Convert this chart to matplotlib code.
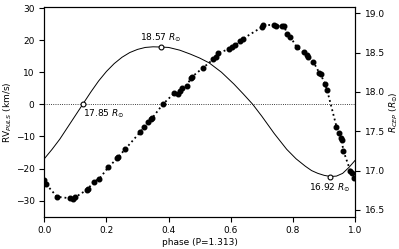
import numpy as np
import matplotlib
matplotlib.use('Agg')
from matplotlib import pyplot as plt

# pulsation velocity measurements (phase, km/s)
rv_phase = [0.0, 0.005, 0.041, 0.084, 0.092, 0.099, 0.136, 0.141, 0.159, 0.177,
            0.206, 0.235, 0.238, 0.260, 0.308, 0.321, 0.334, 0.342, 0.347, 0.381,
            0.418, 0.431, 0.436, 0.442, 0.458, 0.471, 0.474, 0.512, 0.544, 0.552,
            0.560, 0.595, 0.603, 0.614, 0.630, 0.638, 0.700, 0.705, 0.739, 0.746,
            0.764, 0.771, 0.781, 0.792, 0.812, 0.834, 0.844, 0.849, 0.866, 0.885,
            0.889, 0.903, 0.910, 0.940, 0.949, 0.954, 0.957, 0.962, 0.985, 0.989,
            0.998]
rv = [-23.6, -24.8, -28.8, -29.3, -29.4, -29.0, -26.7, -26.3, -24.1, -23.2,
      -19.6, -16.8, -16.4, -14.0, -8.7, -6.9, -5.4, -4.6, -4.3, 0.0,
      3.5, 3.2, 4.3, 5.1, 5.6, 8.2, 8.5, 11.5, 14.1, 14.7,
      16.0, 17.3, 17.8, 18.4, 19.8, 20.4, 24.1, 24.7, 24.8, 24.5,
      24.3, 24.5, 22.1, 21.0, 17.9, 16.2, 15.5, 14.8, 13.2, 9.8,
      9.4, 6.4, 4.4, -6.9, -9.0, -10.6, -11.1, -14.4, -20.8, -21.3,
      -23.1]

# radius curve (phase, R_sun)
r_phase = [0.0, 0.025, 0.05, 0.075, 0.1, 0.125, 0.15, 0.175, 0.2, 0.225,
           0.25, 0.275, 0.3, 0.325, 0.35, 0.375, 0.4, 0.436, 0.47, 0.5,
           0.53, 0.57, 0.61, 0.64, 0.67, 0.7, 0.74, 0.78, 0.81, 0.84,
           0.86, 0.88, 0.9, 0.92, 0.94, 0.96, 0.98, 1.0]
radius = [17.15, 17.27, 17.40, 17.55, 17.70, 17.85, 18.00, 18.14, 18.26, 18.36,
          18.44, 18.50, 18.54, 18.565, 18.573, 18.57, 18.565, 18.53, 18.48, 18.43,
          18.37, 18.25, 18.10, 17.975, 17.845, 17.69, 17.47, 17.27, 17.15, 17.055,
          17.00, 16.965, 16.94, 16.925, 16.93, 16.965, 17.04, 17.13]

r_mean = 17.85
marks = [(0.125, 17.85), (0.375, 18.57), (0.919, 16.92)]

plt.rcParams['font.size'] = 6.5
fig = plt.figure(figsize=(3.99, 2.49), dpi=100)
ax = fig.add_axes([0.111, 0.13, 0.779, 0.841])
ax2 = ax.twinx()

ax.plot(rv_phase, rv, 'k:', lw=1.3, marker='o', ms=3.3)
ax.set_xlim(0, 1)
ax.set_ylim(-35, 30.3)
ax.set_yticks([-30, -20, -10, 0, 10, 20, 30])
ax.set_xlabel('phase (P=1.313)', labelpad=2)
ax.set_ylabel('RV$_{PULS}$ (km/s)', labelpad=1)

ax2.plot(r_phase, radius, 'k-', lw=0.7)
ax2.axhline(r_mean, color='k', ls=':', lw=0.6)
ax2.set_ylim(16.415, 19.076)
ax2.set_yticks([16.5, 17.0, 17.5, 18.0, 18.5, 19.0])
ax2.set_ylabel('$R_{CEP}$ ($R_{\\odot}$)', labelpad=2)
for p, r in marks:
    ax2.plot(p, r, 'o', mfc='white', mec='k', ms=3.5, mew=0.8)
ax2.annotate('17.85 $R_{\\odot}$', (0.125, 17.85), xytext=(0, -3),
             textcoords='offset points', ha='left', va='top')
ax2.annotate('18.57 $R_{\\odot}$', (0.375, 18.57), xytext=(0, 2),
             textcoords='offset points', ha='center', va='bottom')
ax2.annotate('16.92 $R_{\\odot}$', (0.919, 16.92), xytext=(0, -3),
             textcoords='offset points', ha='center', va='top')

fig.savefig('out.png', dpi=100)
